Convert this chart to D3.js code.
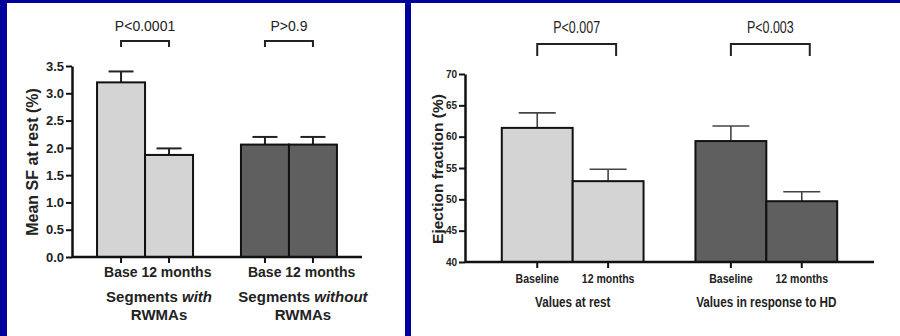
<!DOCTYPE html>
<html>
<head>
<meta charset="utf-8">
<script src="https://cdn.jsdelivr.net/npm/d3@7"></script>
<style>
  body { margin: 0; background: #00009c; }
  svg { display: block; }
</style>
</head>
<body>
<div id="chart"></div>
<script>
// left panel: segment fractional shortening
const sfGroups = ["with", "without"];
const sfBars = ["Base", "12 months"];
const sfMean = [[3.2, 1.87], [2.06, 2.06]];
const sfUpper = [[3.4, 1.99], [2.2, 2.2]];
const sfP = ["P<0.0001", "P>0.9"];
const sfTicks = [0, 0.5, 1, 1.5, 2, 2.5, 3, 3.5];

// right panel: ejection fraction
const efGroups = ["Values at rest", "Values in response to HD"];
const efBars = ["Baseline", "12 months"];
const efMean = [[61.4, 52.9], [59.3, 49.7]];
const efUpper = [[63.8, 54.8], [61.7, 51.2]];
const efP = ["P<0.007", "P<0.003"];
const efTicks = [40, 45, 50, 55, 60, 65, 70];

const groupFill = ["#d4d4d4", "#5f5f5f"];

const width = 900;
const height = 336;
const SANS = '"Liberation Sans", Arial, sans-serif';

const svg = d3.select('#chart')
    .append('svg')
    .attr('width', width)
    .attr('height', height);

svg.append('rect').attr('width', width).attr('height', height).attr('fill', '#00009c');
// white panels
svg.append('rect').attr('x', 7).attr('y', 3).attr('width', 398).attr('height', 333).attr('fill', '#fff');
svg.append('rect').attr('x', 411).attr('y', 3).attr('width', 489).attr('height', 333).attr('fill', '#fff');

// text squeezed horizontally (the right chart uses a narrow face)
function label(parent, x, y, str, font, sx, anchor) {
    return parent.append('text')
        .attr('transform', `translate(${x},${y}) scale(${sx},1)`)
        .attr('text-anchor', anchor || 'middle')
        .style('font', font)
        .attr('fill', '#222')
        .text(str);
}

function drawPanel(opt) {
    const g = svg.append('g');

    const x0 = d3.scaleBand()
        .domain(d3.range(opt.groups.length))
        .range([opt.left, opt.right])
        .paddingInner(opt.padIn)
        .paddingOuter(opt.padOut);
    const x1 = d3.scaleBand()
        .domain(opt.bars)
        .range([0, x0.bandwidth()]);
    const y = d3.scaleLinear().domain(opt.domain).range([opt.bottom, opt.top]);

    opt.mean.forEach((vals, gi) => {
        const gg = g.append('g').attr('transform', `translate(${x0(gi)},0)`);
        vals.forEach((v, bi) => {
            const cx = x1(opt.bars[bi]) + x1.bandwidth() / 2;
            const up = opt.upper[gi][bi];
            gg.append('line')
                .attr('x1', cx).attr('x2', cx)
                .attr('y1', y(v)).attr('y2', y(up))
                .attr('stroke', opt.errColor).attr('stroke-width', opt.errWidth);
            gg.append('line')
                .attr('x1', cx - opt.cap / 2).attr('x2', cx + opt.cap / 2)
                .attr('y1', y(up)).attr('y2', y(up))
                .attr('stroke', opt.errColor).attr('stroke-width', opt.errWidth);
            gg.append('rect')
                .attr('x', x1(opt.bars[bi]))
                .attr('y', y(v))
                .attr('width', x1.bandwidth())
                .attr('height', y(opt.domain[0]) - y(v))
                .attr('fill', groupFill[gi])
                .attr('stroke', '#111')
                .attr('stroke-width', 2);
            gg.append('line')
                .attr('x1', cx).attr('x2', cx)
                .attr('y1', opt.bottom).attr('y2', opt.bottom + 6)
                .attr('stroke', '#111').attr('stroke-width', 2);
        });

        // p-value bracket
        const xa = x0(gi) + x1(opt.bars[0]) + x1.bandwidth() / 2;
        const xb = x0(gi) + x1(opt.bars[1]) + x1.bandwidth() / 2 + opt.bracketShift;
        g.append('path')
            .attr('d', `M${xa},${opt.bracketY + opt.bracketLeg}V${opt.bracketY}H${xb}V${opt.bracketY + opt.bracketLeg}`)
            .attr('fill', 'none').attr('stroke', '#222').attr('stroke-width', 2);
        label(g, (xa + xb) / 2, opt.pY, opt.p[gi], opt.pFont, opt.sx);
    });

    // y axis
    const yAxis = g.append('g')
        .attr('transform', `translate(${opt.left},0)`)
        .call(d3.axisLeft(y).tickValues(opt.ticks).tickFormat(opt.fmt).tickSize(6).tickSizeOuter(0).tickPadding(2));
    yAxis.select('.domain').attr('stroke', '#111').attr('stroke-width', 2.5);
    yAxis.selectAll('.tick line').attr('stroke', '#111').attr('stroke-width', 2);
    yAxis.selectAll('.tick text').style('font', opt.tickFont).attr('fill', '#222');

    // x axis line
    g.append('line')
        .attr('x1', opt.left).attr('x2', opt.right)
        .attr('y1', opt.bottom).attr('y2', opt.bottom)
        .attr('stroke', '#111').attr('stroke-width', 2.5);

    // y title
    g.append('text')
        .attr('transform', `translate(${opt.yTitleX},${opt.yTitleY}) rotate(-90)`)
        .attr('text-anchor', 'middle')
        .attr('dy', '0.35em')
        .style('font', opt.titleFont)
        .attr('fill', '#222')
        .text(opt.yTitle);

    return { x0, x1, y };
}

// ---- left panel
const L = drawPanel({
    groups: sfGroups, bars: sfBars, mean: sfMean, upper: sfUpper, p: sfP, ticks: sfTicks,
    domain: [0, 3.5], left: 72, right: 362, top: 66, bottom: 257,
    padIn: 0.333, padOut: 0.174,
    cap: 25, errColor: '#222', errWidth: 2,
    bracketY: 41, bracketLeg: 6, bracketShift: 0, pY: 31, sx: 1,
    pFont: `14px ${SANS}`,
    tickFont: `bold 13px ${SANS}`,
    titleFont: `bold 16px ${SANS}`,
    fmt: d3.format('.1f'), yTitle: 'Mean SF at rest (%)', yTitleX: 32, yTitleY: 162
});

sfGroups.forEach((word, gi) => {
    const gx = L.x0(gi);
    label(svg, gx + 7, 277, sfBars.join(' '), `bold 14px ${SANS}`, 1, 'start');
    const cx = gx + L.x0.bandwidth() / 2 + 14;
    const t = label(svg, cx, 302, '', `bold 15px ${SANS}`, 1);
    t.append('tspan').text('Segments ');
    t.append('tspan').style('font-style', 'italic').text(word);
    label(svg, cx, 320, 'RWMAs', `bold 15px ${SANS}`, 1);
});

// ---- right panel
const R = drawPanel({
    groups: efGroups, bars: efBars, mean: efMean, upper: efUpper, p: efP, ticks: efTicks,
    domain: [40, 70], left: 465, right: 874, top: 74, bottom: 262,
    padIn: 0.268, padOut: 0.19,
    cap: 37, errColor: '#444', errWidth: 1.6,
    bracketY: 44, bracketLeg: 12, bracketShift: 8, pY: 33, sx: 0.78,
    pFont: `16px ${SANS}`,
    tickFont: `bold 10px ${SANS}`,
    titleFont: `bold 15.5px ${SANS}`,
    fmt: d3.format('d'), yTitle: 'Ejection fraction (%)', yTitleX: 438, yTitleY: 169
});

efGroups.forEach((name, gi) => {
    const gx = R.x0(gi);
    efBars.forEach(b => {
        label(svg, gx + R.x1(b) + R.x1.bandwidth() / 2, 283, b, `bold 13.5px ${SANS}`, 0.78);
    });
    label(svg, gx + R.x0.bandwidth() / 2, 307, name, `bold 15px ${SANS}`, 0.78);
});
</script>
</body>
</html>
